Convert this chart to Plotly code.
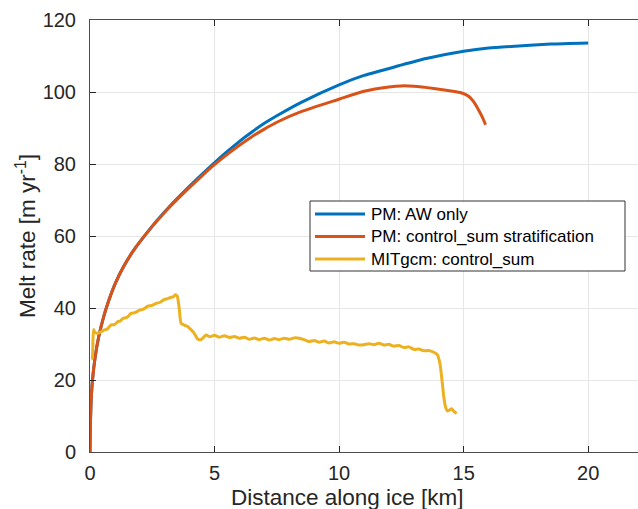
import plotly.graph_objects as go

# PM: AW only
aw_x = [0, 0.01, 0.03, 0.05, 0.1, 0.21, 0.35, 0.55, 0.75, 1.02, 1.35, 1.75, 2.22, 2.69, 3.22, 3.83,
        4.43, 4.96, 5.5, 6.0, 6.5, 7.0, 7.5, 8.5, 10.0, 11.0, 12.4, 13.5, 15.0, 16.0, 17.5, 18.5, 20.0]
aw_y = [0, 6, 11, 15, 20, 26.5, 32, 37.6, 42, 46.9, 51.5, 56, 60.3, 64.3, 68.4, 72.7,
        76.7, 80.1, 83.4, 86.3, 88.9, 91.3, 93.4, 97.2, 102, 104.6, 107.3, 109.3, 111.3, 112.2, 112.9, 113.3, 113.6]

# PM: control_sum stratification
cs_x = [0, 0.01, 0.03, 0.05, 0.1, 0.21, 0.35, 0.55, 0.75, 1.02, 1.35, 1.75, 2.22, 2.69, 3.22, 3.83,
        4.43, 4.96, 5.5, 6.0, 6.5, 7.0, 7.5, 8.5, 10.0, 11.0, 12.0, 12.5, 13.0, 13.8, 14.5, 14.9,
        15.2, 15.4, 15.6, 15.75, 15.88]
cs_y = [0, 6, 11, 15, 20, 26.5, 32, 37.6, 42, 46.9, 51.5, 56, 60.3, 64.2, 68.2, 72.4,
        76.3, 79.6, 82.6, 85.2, 87.6, 89.7, 91.6, 94.6, 98, 100.2, 101.4, 101.7, 101.6, 101.0, 100.3, 99.8,
        98.8, 97.3, 95.0, 93.0, 90.9]

# MITgcm: control_sum
mit_x = [0.05, 0.09, 0.14, 0.2, 0.31, 0.45, 0.58, 0.7, 0.85, 0.98, 1.12, 1.22, 1.32, 1.48, 1.65, 1.8,
         1.99, 2.15, 2.32, 2.48, 2.66, 2.82, 2.99, 3.12, 3.26, 3.35, 3.42, 3.5, 3.58, 3.66, 3.8, 3.93,
         4.05, 4.15, 4.25, 4.33, 4.45, 4.55, 4.67, 4.8, 5.0, 5.2, 5.4, 5.6, 5.8, 6.0, 6.2, 6.4, 6.6,
         6.8, 7.0, 7.2, 7.4, 7.6, 7.8, 8.0, 8.2, 8.4, 8.6, 8.8, 9.0, 9.2, 9.4, 9.6, 9.8, 10.0, 10.2,
         10.4, 10.6, 10.8, 11.0, 11.2, 11.4, 11.6, 11.8, 12.0, 12.2, 12.4, 12.6, 12.8, 13.0, 13.2,
         13.4, 13.6, 13.8, 13.95, 14.05, 14.13, 14.2, 14.27, 14.35, 14.42, 14.52, 14.62, 14.72]
mit_y = [25.8, 26.0, 34.0, 33.2, 33.0, 33.4, 33.9, 34.2, 35.3, 35.4, 36.2, 36.4, 37.1, 37.4, 38.5, 38.7,
         39.4, 39.7, 40.5, 40.7, 41.3, 41.6, 42.4, 42.6, 43.0, 43.1, 43.7, 43.3, 40.0, 35.7, 35.2, 34.8,
         34.0, 33.3, 32.2, 31.3, 31.2, 31.8, 32.5, 32.0, 32.4, 31.9, 32.3, 31.8, 32.1, 31.6, 31.9, 31.3, 31.7,
         31.2, 31.6, 31.1, 31.5, 31.2, 31.6, 31.3, 31.7, 31.6, 31.2, 30.7, 31.0, 30.5, 30.8, 30.3, 30.6, 30.2, 30.5,
         30.0, 30.1, 29.7, 29.8, 30.1, 29.8, 30.2, 29.7, 29.9, 29.4, 29.6, 29.0, 29.2, 28.5, 28.6,
         28.1, 28.2, 27.7, 27.0, 24.5, 20.0, 15.5, 12.6, 11.4, 11.6, 12.0, 11.2, 10.7]

x_ticks = [0, 5, 10, 15, 20]
y_ticks = [0, 20, 40, 60, 80, 100, 120]

names = ["PM: AW only", "PM: control_sum stratification", "MITgcm: control_sum"]
colors = ["#0072BD", "#D95319", "#EDB120"]
x_title = "Distance along ice [km]"
y_title = "Melt rate [m yr<sup>-1</sup>]"

fig = go.Figure()
for xs, ys, nm, c in zip([aw_x, cs_x, mit_x], [aw_y, cs_y, mit_y], names, colors):
    fig.add_trace(go.Scatter(x=xs, y=ys, mode="lines", name=nm, showlegend=False,
                             line=dict(color=c, width=3, shape="spline", smoothing=0.6)))

axcol = "#262626"
font = "Liberation Sans, Arial, sans-serif"

# pixel -> paper helpers
pl, pt, pw, ph = 90, 20, 548, 432     # plot area in pixels
px = lambda v: (v - pl) / pw
py = lambda v: (pt + ph - v) / ph

# manual legend
L, R, T, B = 310, 625, 201, 271
fig.add_shape(type="rect", xref="paper", yref="paper", x0=px(L), x1=px(R), y0=py(B), y1=py(T),
              line=dict(color="#333333", width=1), fillcolor="white", layer="above")
row_y = [214, 236.5, 259]
for ry, nm, c in zip(row_y, names, colors):
    fig.add_shape(type="line", xref="paper", yref="paper", x0=px(315), x1=px(365),
                  y0=py(ry), y1=py(ry), line=dict(color=c, width=3), layer="above")
    fig.add_annotation(xref="paper", yref="paper", x=px(369), y=py(ry), text=nm,
                       showarrow=False, xanchor="left", yanchor="middle",
                       font=dict(size=17, family=font, color="#000000"))

# x-axis title (MATLAB centres it on the full, partly cropped axes)
fig.add_annotation(xref="paper", yref="paper", x=px(347), y=py(497), text=x_title,
                   showarrow=False, xanchor="center", yanchor="middle",
                   font=dict(size=22.5, family=font, color=axcol))

fig.update_layout(
    width=638, height=509,
    margin=dict(l=90, r=0, t=20, b=57),
    plot_bgcolor="white", paper_bgcolor="white",
    font=dict(family=font, color=axcol, size=20),
    showlegend=False,
    xaxis=dict(range=[0, 22.0], tickvals=x_ticks, ticks="inside", ticklen=6,
               tickcolor=axcol, showline=True, linecolor="#4d4d4d", linewidth=1,
               mirror="ticks", showgrid=True, gridcolor="#e6e6e6", zeroline=False,
               ticklabelstandoff=3, tickfont=dict(size=20)),
    yaxis=dict(range=[0, 120], tickvals=y_ticks, ticks="inside", ticklen=6,
               tickcolor=axcol, showline=True, linecolor="#4d4d4d", linewidth=1,
               showgrid=True, gridcolor="#e6e6e6", zeroline=False,
               ticklabelstandoff=9,
               title=dict(text=y_title, font=dict(size=22.5), standoff=0),
               tickfont=dict(size=20)),
)
fig.write_html("out.html")
